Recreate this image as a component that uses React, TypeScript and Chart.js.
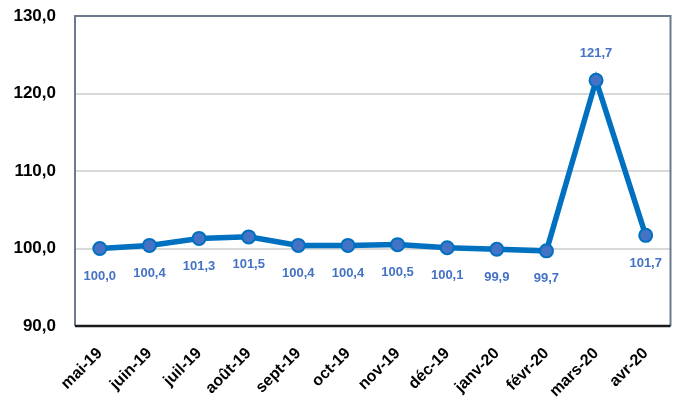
import React, { useEffect, useRef } from "react";
import { Chart, registerables } from "chart.js";

Chart.register(...registerables);

const categories = ["mai-19", "juin-19", "juil-19", "août-19", "sept-19", "oct-19", "nov-19", "déc-19", "janv-20", "févr-20", "mars-20", "avr-20"];
const values = [100.0, 100.4, 101.3, 101.5, 100.4, 100.4, 100.5, 100.1, 99.9, 99.7, 121.7, 101.7];
const labelAbove = [false, false, false, false, false, false, false, false, false, false, true, false];

const fmt = (v: number) => v.toFixed(1).replace(".", ",");

const dataLabels = {
  id: "dataLabels",
  afterDatasetsDraw(chart: any) {
    const ctx = chart.ctx;
    const meta = chart.getDatasetMeta(0);
    ctx.save();
    ctx.font = "bold 13px 'Liberation Sans', Arial, sans-serif";
    ctx.fillStyle = "#4472C4";
    ctx.textAlign = "center";
    ctx.textBaseline = "middle";
    meta.data.forEach((pt: any, i: number) => {
      const dy = labelAbove[i] ? -27 : 28;
      ctx.fillText(fmt(values[i]), pt.x, pt.y + dy);
    });
    ctx.restore();
  },
};

const frame = {
  id: "frame",
  afterDraw(chart: any) {
    const { ctx, chartArea: a } = chart;
    ctx.save();
    ctx.lineWidth = 2;
    ctx.strokeStyle = "#6b7a8f";
    ctx.beginPath();
    ctx.moveTo(a.left, a.bottom);
    ctx.lineTo(a.left, a.top);
    ctx.lineTo(a.right, a.top);
    ctx.lineTo(a.right, a.bottom);
    ctx.stroke();
    ctx.strokeStyle = "#1a1a1a";
    ctx.lineWidth = 2.5;
    ctx.beginPath();
    ctx.moveTo(a.left, a.bottom);
    ctx.lineTo(a.right, a.bottom);
    ctx.stroke();
    ctx.restore();
  },
};

export default function App() {
  const ref = useRef<HTMLCanvasElement>(null);
  useEffect(() => {
    const chart = new Chart(ref.current!, {
      type: "line",
      data: {
        labels: categories,
        datasets: [
          {
            data: values,
            borderColor: "#0070C0",
            borderWidth: 5.5,
            pointRadius: 6.5,
            pointBackgroundColor: "#4472C4",
            pointBorderColor: "#0070C0",
            pointBorderWidth: 2,
            tension: 0,
          },
        ],
      },
      options: {
        animation: false,
        responsive: false,
        maintainAspectRatio: false,
        layout: { padding: { top: 16, right: 7, left: 0, bottom: 0 } },
        plugins: { legend: { display: false }, tooltip: { enabled: false } },
        scales: {
          x: {
            offset: true,
            grid: { display: false, drawTicks: false },
            border: { display: false },
            ticks: {
              minRotation: 45,
              maxRotation: 45,
              padding: 18,
              color: "#000",
              font: { family: "'Liberation Sans', Arial, sans-serif", size: 16, weight: "bold" },
            },
            afterFit: (s: any) => {
              s.height = 76;
              s.paddingLeft = 0;
              s.paddingRight = 0;
              s.paddingTop = 0;
              s.paddingBottom = 0;
            },
          },
          y: {
            min: 90,
            max: 130,
            ticks: {
              stepSize: 10,
              padding: 19,
              color: "#000",
              font: { family: "'Liberation Sans', Arial, sans-serif", size: 17, weight: "bold" },
              callback: (v: any) => fmt(Number(v)),
            },
            grid: { color: "#d9d9d9", lineWidth: 2, drawTicks: false },
            border: { display: false },
            afterFit: (s: any) => {
              s.width = 75;
              s.paddingTop = 0;
              s.paddingBottom = 0;
              s.paddingLeft = 0;
              s.paddingRight = 0;
            },
          },
        },
      },
      plugins: [dataLabels, frame],
    });
    return () => chart.destroy();
  }, []);
  return (
    <div style={{ position: "fixed", left: 0, top: 0, width: 679, height: 402, background: "#fff" }}>
      <canvas ref={ref} width={679} height={402} style={{ display: "block" }} />
    </div>
  );
}
